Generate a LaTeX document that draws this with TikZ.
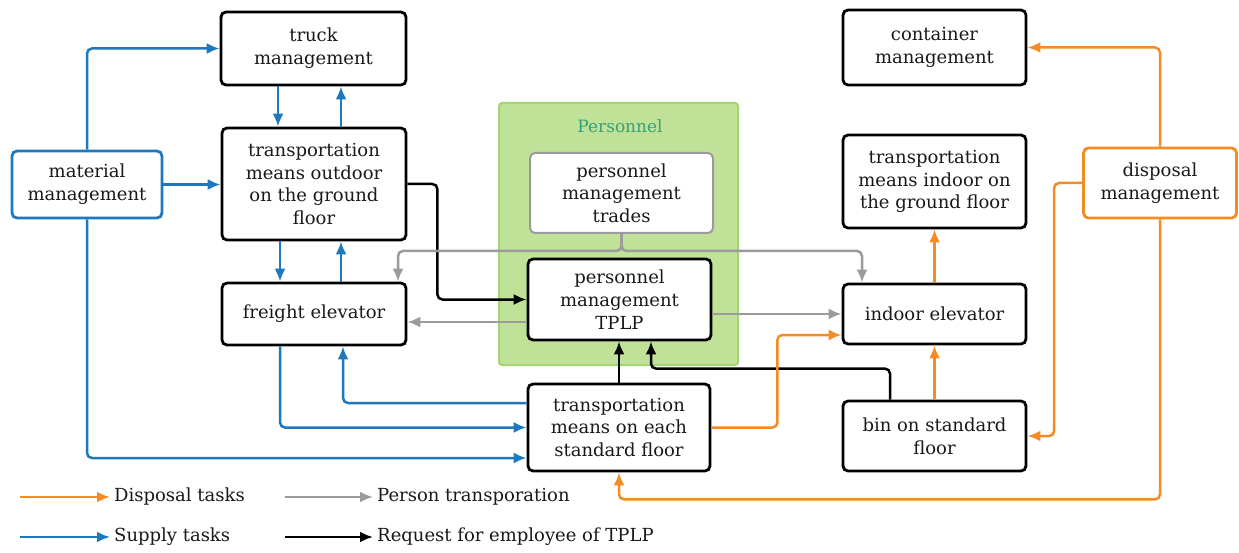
\documentclass[tikz,border=0pt]{standalone}
\usepackage{fontspec}
\setmainfont{DejaVu Serif}
\usetikzlibrary{arrows.meta}
\definecolor{cblue}{RGB}{30,120,190}
\definecolor{corange}{RGB}{245,140,35}
\definecolor{cgray}{RGB}{155,155,155}
\definecolor{cgreenfill}{RGB}{192,226,152}
\definecolor{cgreenline}{RGB}{165,212,115}
\definecolor{cteal}{RGB}{55,160,120}
\definecolor{ctext}{RGB}{25,25,25}
\begin{document}
\begin{tikzpicture}[x=1pt,y=-1pt,
  box/.style={draw=black, line width=2.8pt, rounded corners=5pt, fill=white, align=center,
    inner sep=0pt, font=\fontsize{18}{22.7}\selectfont, text=ctext},
  conn/.style={line width=2.5pt, rounded corners=5pt, -{Latex[length=13pt,width=11pt]}},
  sup/.style={conn, draw=cblue},
  dis/.style={conn, draw=corange},
  per/.style={conn, draw=cgray},
  req/.style={conn, draw=black},
  legtext/.style={anchor=west, inner sep=4pt, font=\fontsize{18}{22}\selectfont, text=ctext}]
\useasboundingbox (0,0) rectangle (1239,553);
\fill[white] (0,0) rectangle (1239,553);

% group
\draw[fill=cgreenfill, draw=cgreenline, line width=2pt, rounded corners=3pt] (499,103) rectangle (738,365);
\node[font=\fontsize{17}{20}\selectfont, text=cteal] (grp) at (620,126) {Personnel};

% nodes
\node[box, minimum width=185pt, minimum height=73pt] (truck) at (313.5,48.5) {truck\\management};
\node[box, draw=cblue, minimum width=150pt, minimum height=67pt] (material) at (87,184.5) {material\\management};
\node[box, minimum width=184pt, minimum height=112pt] (outdoor) at (314,184) {transportation\\means outdoor\\on the ground\\floor};
\node[box, minimum width=184pt, minimum height=62pt] (freight) at (314,314) {freight elevator};
\node[box, draw=cgray, line width=2pt, minimum width=183pt, minimum height=80pt] (trades) at (621.5,193) {personnel\\management\\trades};
\node[box, minimum width=183pt, minimum height=81pt] (tplp) at (619.5,299.5) {personnel\\management\\TPLP};
\node[box, minimum width=182pt, minimum height=87pt] (eachfloor) at (619,427.5) {transportation\\means on each\\standard floor};
\node[box, minimum width=183pt, minimum height=75pt] (container) at (934.5,47.5) {container\\management};
\node[box, minimum width=183pt, minimum height=93pt] (indoorgf) at (934.5,181.5) {transportation\\means indoor on\\the ground floor};
\node[box, minimum width=183pt, minimum height=60pt] (indoorelev) at (934.5,314) {indoor elevator};
\node[box, minimum width=183pt, minimum height=70pt] (bin) at (934.5,436) {bin on standard\\floor};
\node[box, draw=corange, minimum width=153pt, minimum height=70pt] (disposal) at (1160,183) {disposal\\management};

% supply (blue)
\draw[sup] (material.north) |- (truck.west);
\draw[sup] (material.east) -- (material.east -| outdoor.west);
\draw[sup] (material.south) |- ([yshift=-30.5pt]eachfloor.west);
\draw[sup] ([xshift=-35.5pt]truck.south) -- ([xshift=-35.5pt]truck.south |- outdoor.north);
\draw[sup] ([xshift=27pt]outdoor.north) -- ([xshift=27pt]outdoor.north |- truck.south);
\draw[sup] ([xshift=-34pt]outdoor.south) -- ([xshift=-34pt]freight.north);
\draw[sup] ([xshift=27pt]freight.north) -- ([xshift=27pt]outdoor.south);
\draw[sup] ([xshift=-34pt]freight.south) |- (eachfloor.west);
\draw[sup] ([yshift=24.5pt]eachfloor.west) -| ([xshift=29pt]freight.south);

% request (black)
\draw[req] (outdoor.east) -- ++(30,0) |- (tplp.west);
\draw[req] (eachfloor.north) -- (eachfloor.north |- tplp.south);
\draw[req] ([xshift=-44.5pt]bin.north) -- ++(0,-31) -| ([xshift=31.5pt]tplp.south);

% person (gray)
\draw[per] ([yshift=-22.5pt]tplp.west) -- ([yshift=-22.5pt]tplp.west -| freight.east);
\draw[per] (tplp.east |- indoorelev.west) -- (indoorelev.west);
\draw[per] (trades.south) -- ++(0,17) -| ([xshift=84pt]freight.north);
\draw[per] (trades.south) -- ++(0,17) -| ([xshift=-72.5pt]indoorelev.north);

% disposal (orange)
\draw[dis] (eachfloor.east) -- ++(66,0) |- ([yshift=-21pt]indoorelev.west);
\draw[dis] (indoorelev.north) -- (indoorgf.south);
\draw[dis] (bin.north) -- (indoorelev.south);
\draw[dis] (disposal.west) -- ++(-28,0) |- (bin.east);
\draw[dis] (disposal.north) |- (container.east);
\draw[dis] (disposal.south) -- ++(0,280) -| (eachfloor.south);

% legend
\node[legtext] (l1) at (110,497) {Disposal tasks};
\node[legtext] (l2) at (373,497) {Person transporation};
\node[legtext] (l3) at (110,537) {Supply tasks};
\node[legtext] (l4) at (373,537) {Request for employee of TPLP};
\coordinate (c1) at (20,497);
\coordinate (c2) at (285,497);
\coordinate (c3) at (20,537);
\coordinate (c4) at (285,537);
\draw[dis] (c1) -- (l1);
\draw[per] (c2) -- (l2);
\draw[sup] (c3) -- (l3);
\draw[req] (c4) -- (l4);
\end{tikzpicture}
\end{document}
